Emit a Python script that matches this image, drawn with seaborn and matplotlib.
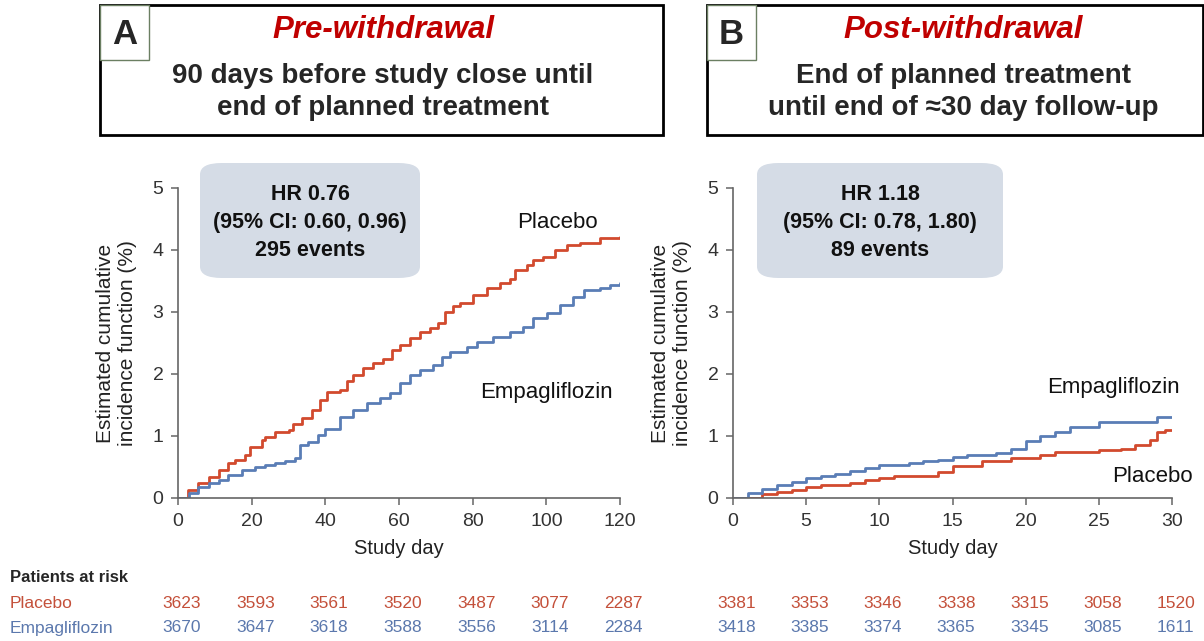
import numpy as np
import pandas as pd
import matplotlib
matplotlib.use("Agg")
import matplotlib.pyplot as plt
import seaborn as sns
from matplotlib.patches import Rectangle, FancyBboxPatch

# Panel A: pre-withdrawal (days 0-120), cumulative incidence (%)
pre_day = [0, 2.8, 5.5, 8.3, 11, 13.7, 15.5, 18.2, 19.5, 22.7, 23.6, 26.3, 30, 31.3, 33.6, 36.3,
           38.6, 40.4, 44, 45.8, 47.6, 50.3, 53, 55.7, 58, 60.3, 63, 65.7, 68.4, 70.7, 72.5, 74.7,
           76.6, 80.2, 83.8, 87.4, 90.1, 91.5, 94.7, 96.5, 99.2, 102.4, 105.5, 109.1, 114.6, 120]
pre_placebo = [0, 0.13, 0.24, 0.34, 0.45, 0.56, 0.61, 0.69, 0.83, 0.94, 0.99, 1.07, 1.10, 1.20, 1.29, 1.42,
               1.58, 1.71, 1.74, 1.88, 1.98, 2.09, 2.17, 2.25, 2.39, 2.47, 2.58, 2.68, 2.74, 2.82, 3.00, 3.09,
               3.14, 3.27, 3.38, 3.46, 3.54, 3.68, 3.76, 3.84, 3.89, 4.00, 4.08, 4.12, 4.19, 4.21]
pre_day_e = [0, 3, 5.5, 8.3, 11, 13.7, 17.3, 20.9, 23.6, 26.3, 29, 31.7, 33.1, 35.4, 38.1, 39.9,
             44, 47.6, 51.2, 54.8, 57.6, 60.3, 63, 65.7, 69.3, 71.6, 73.9, 78.4, 81.1, 85.6, 90.1,
             93.8, 96.5, 100.1, 103.7, 107.3, 110.1, 114.6, 117.3, 120]
pre_empa = [0, 0.08, 0.18, 0.24, 0.29, 0.37, 0.45, 0.50, 0.53, 0.56, 0.60, 0.64, 0.85, 0.91, 1.02, 1.12,
            1.31, 1.42, 1.53, 1.61, 1.69, 1.85, 1.98, 2.06, 2.15, 2.28, 2.36, 2.44, 2.52, 2.60, 2.68,
            2.76, 2.90, 2.98, 3.11, 3.25, 3.35, 3.38, 3.44, 3.46]

# Panel B: post-withdrawal (days 0-30)
post_day_p = [0, 2, 3, 4, 5, 6, 8, 9, 10, 11, 14, 15, 17, 19, 21, 22, 25, 26.5, 27.5, 28.5, 29, 29.5, 30]
post_placebo = [0, 0.06, 0.10, 0.13, 0.17, 0.21, 0.25, 0.29, 0.33, 0.36, 0.42, 0.52, 0.60, 0.64, 0.69,
                0.75, 0.77, 0.79, 0.85, 0.93, 1.06, 1.09, 1.09]
post_day_e = [0, 1, 2, 3, 4, 5, 6, 7, 8, 9, 10, 12, 13, 14, 15, 16, 18, 19, 20, 21, 22, 23, 25, 29, 30]
post_empa = [0, 0.08, 0.14, 0.21, 0.26, 0.32, 0.35, 0.38, 0.44, 0.48, 0.53, 0.56, 0.59, 0.62, 0.66, 0.70,
             0.73, 0.79, 0.92, 1.00, 1.07, 1.15, 1.22, 1.30, 1.30]

# Patients at risk
pre_ticks = [0, 20, 40, 60, 80, 100, 120]
post_ticks = [0, 5, 10, 15, 20, 25, 30]
risk_pre_placebo = [3623, 3593, 3561, 3520, 3487, 3077, 2287]
risk_pre_empa = [3670, 3647, 3618, 3588, 3556, 3114, 2284]
risk_post_placebo = [3381, 3353, 3346, 3338, 3315, 3058, 1520]
risk_post_empa = [3418, 3385, 3374, 3365, 3345, 3085, 1611]

RED = "#d24a2e"
BLUE = "#5a7db6"
RED_TXT = "#c4503a"
BLUE_TXT = "#5b78ad"
W, H = 1204, 641

sns.set_style("white")
plt.rcParams["font.family"] = ["Liberation Sans", "DejaVu Sans"]

fig = plt.figure(figsize=(W / 100, H / 100), dpi=100)


def fx(x):
    return x / W


def fy(y):
    return 1 - y / H


def make_axes(x0, x1):
    ax = fig.add_axes([fx(x0), fy(498), fx(x1) - fx(x0), fy(188) - fy(498)])
    sns.despine(ax=ax)
    for s in ("left", "bottom"):
        ax.spines[s].set_color("#666666")
        ax.spines[s].set_linewidth(1.2)
    ax.tick_params(axis="both", direction="out", length=5, width=1.1, color="#666666",
                   labelsize=14, labelcolor="#333333", left=True, bottom=True, pad=5.5)
    ax.set_ylim(0, 5)
    ax.set_yticks([0, 1, 2, 3, 4, 5])
    return ax


def curve(ax, days, vals, color):
    df = pd.DataFrame({"day": days, "cif": vals})
    sns.lineplot(data=df, x="day", y="cif", ax=ax, color=color, lw=2.0,
                 drawstyle="steps-post", estimator=None, sort=False)


def labels(ax):
    ax.set_xlabel("Study day", fontsize=14.5, color="#222222", labelpad=7)
    ax.set_ylabel("Estimated cumulative\nincidence function (%)", fontsize=15, color="#222222",
                  linespacing=1.2, labelpad=11)


# Panel A
axA = make_axes(178, 620)
curve(axA, pre_day, pre_placebo, RED)
curve(axA, pre_day_e, pre_empa, BLUE)
axA.set_xlim(0, 120)
axA.set_xticks(pre_ticks)
labels(axA)
axA.text(103, 4.45, "Placebo", fontsize=16, ha="center", va="center", color="#111111")
axA.text(100, 1.7, "Empagliflozin", fontsize=16, ha="center", va="center", color="#111111")

# Panel B
axB = make_axes(733, 1172)
curve(axB, post_day_p, post_placebo, RED)
curve(axB, post_day_e, post_empa, BLUE)
axB.set_xlim(0, 30)
axB.set_xticks(post_ticks)
labels(axB)
fig.text(fx(1113), fy(388), "Empagliflozin", fontsize=16, ha="center", va="center", color="#111111")
fig.text(fx(1152), fy(476), "Placebo", fontsize=16, ha="center", va="center", color="#111111")

# HR boxes
for (x0, x1), lines in [((200, 420), ["HR 0.76", "(95% CI: 0.60, 0.96)", "295 events"]),
                        ((757, 1003), ["HR 1.18", "(95% CI: 0.78, 1.80)", "89 events"])]:
    box = FancyBboxPatch((fx(x0), fy(278)), fx(x1) - fx(x0), fy(163) - fy(278),
                         boxstyle="round,pad=0,rounding_size=0.018", transform=fig.transFigure,
                         facecolor="#d5dce6", edgecolor="none", zorder=0)
    fig.patches.append(box)
    xc = (x0 + x1) / 2
    for yy, t in zip([195, 222, 250], lines):
        fig.text(fx(xc), fy(yy), t, fontsize=15.5, fontweight="bold", ha="center", va="center",
                 color="#111111")

# Header boxes
headers = [(100, 663, 383, "A", "Pre-withdrawal", "90 days before study close until\nend of planned treatment"),
           (707, 1203, 963, "B", "Post-withdrawal", "End of planned treatment\nuntil end of \u224830 day follow-up")]
for x0, x1, xc, letter, title, sub in headers:
    fig.patches.append(Rectangle((fx(x0), fy(135)), fx(x1) - fx(x0), fy(5) - fy(135),
                                 transform=fig.transFigure, facecolor="white", edgecolor="black", lw=2))
    fig.patches.append(Rectangle((fx(x0), fy(60)), fx(x0 + 49) - fx(x0), fy(5) - fy(60),
                                 transform=fig.transFigure, facecolor="white", edgecolor="#6b7f62", lw=1))
    fig.text(fx(x0 + 24.5), fy(34), letter, fontsize=25, fontweight="bold", ha="center", va="center")
    fig.text(fx(xc), fy(30), title, fontsize=22.5, fontweight="bold", fontstyle="italic",
             color="#c00000", ha="center", va="center")
    fig.text(fx(xc), fy(92), sub, fontsize=20, fontweight="bold", ha="center", va="center",
             linespacing=1.3)

# Risk table
fig.text(fx(10), fy(577), "Patients at risk", fontsize=12, fontweight="bold", ha="left", va="center")
fig.text(fx(10), fy(604), "Placebo", fontsize=12.5, color=RED_TXT, ha="left", va="center")
fig.text(fx(10), fy(628), "Empagliflozin", fontsize=12.5, color=BLUE_TXT, ha="left", va="center")
for ax, ticks, rp, re_ in [(axA, pre_ticks, risk_pre_placebo, risk_pre_empa),
                           (axB, post_ticks, risk_post_placebo, risk_post_empa)]:
    for t, p, e in zip(ticks, rp, re_):
        xpix = ax.transData.transform((t, 0))[0]
        xf = fig.transFigure.inverted().transform((xpix, 0))[0]
        fig.text(xf + 0.003, fy(604), str(p), fontsize=12.5, color=RED_TXT, ha="center", va="center")
        fig.text(xf + 0.003, fy(628), str(e), fontsize=12.5, color=BLUE_TXT, ha="center", va="center")

fig.savefig("out.png", dpi=100)
